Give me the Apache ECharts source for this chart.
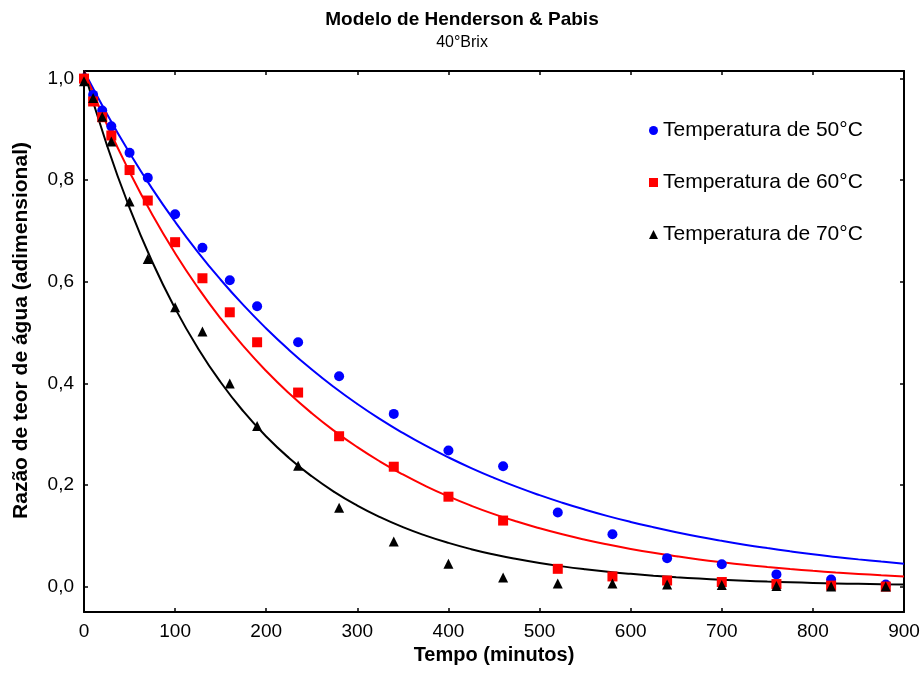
<!DOCTYPE html>
<html>
<head>
<meta charset="utf-8">
<script src="https://cdn.jsdelivr.net/npm/echarts@6/dist/echarts.min.js"></script>
<style>html,body{margin:0;padding:0;background:#fff;}#c{width:924px;height:686px;}</style>
</head>
<body>
<div id="c"></div>
<script>
// Observed drying data (minutes, moisture ratio)
var times = [0,10,20,30,50,70,100,130,160,190,235,280,340,400,460,520,580,640,700,760,820,880];
var mr50 = [1.0,0.968,0.937,0.906,0.854,0.805,0.733,0.667,0.603,0.552,0.481,0.414,0.340,0.268,0.237,0.146,0.103,0.056,0.044,0.024,0.014,0.004];
var mr60 = [1.0,0.955,0.924,0.888,0.820,0.760,0.678,0.607,0.540,0.481,0.382,0.296,0.236,0.177,0.130,0.035,0.020,0.012,0.009,0.005,0.002,0.0];
var mr70 = [0.995,0.962,0.925,0.876,0.758,0.645,0.550,0.502,0.400,0.316,0.238,0.155,0.089,0.045,0.018,0.006,0.006,0.004,0.003,0.001,0.0,0.0];

// Fitted model curves, every 25 minutes
var curveTimes = [0,25,50,75,100,125,150,175,200,225,250,275,300,325,350,375,400,425,450,475,500,525,550,575,600,625,650,675,700,725,750,775,800,825,850,875,900];
var fit50 = [1.015,0.9309,0.8538,0.7830,0.7182,0.6586,0.6041,0.5540,0.5081,0.4660,0.4274,0.3920,0.3595,0.3297,0.3024,0.2773,0.2544,0.2333,0.2140,0.1962,0.1800,0.1651,0.1514,0.1388,0.1273,0.1168,0.1071,0.0982,0.0901,0.0826,0.0758,0.0695,0.0637,0.0585,0.0536,0.0492,0.0451];
var fit60 = [1.015,0.9102,0.8162,0.7319,0.6563,0.5886,0.5278,0.4733,0.4244,0.3806,0.3413,0.3061,0.2745,0.2461,0.2207,0.1979,0.1775,0.1592,0.1427,0.1280,0.1148,0.1029,0.0923,0.0828,0.0742,0.0665,0.0597,0.0535,0.0480,0.0430,0.0386,0.0346,0.0310,0.0278,0.0250,0.0224,0.0201];
var fit70 = [1.015,0.8699,0.7456,0.6390,0.5477,0.4694,0.4023,0.3448,0.2955,0.2533,0.2171,0.1860,0.1595,0.1367,0.1171,0.1004,0.0860,0.0737,0.0632,0.0542,0.0464,0.0398,0.0341,0.0292,0.0251,0.0215,0.0184,0.0158,0.0135,0.0116,0.0099,0.0085,0.0073,0.0063,0.0054,0.0046,0.0039];

var yTicks = [0,0.2,0.4,0.6,0.8,1.0];
var xTicks = [0,100,200,300,400,500,600,700,800,900];

var names = ['Temperatura de 50°C','Temperatura de 60°C','Temperatura de 70°C'];
var colors = ['#0000ff','#ff0000','#000000'];

function pairs(xs, ys){ return xs.map(function(x,i){ return [x, ys[i]]; }); }

var FONT = '"Liberation Sans", Arial, sans-serif';
var chart = echarts.init(document.getElementById('c'), null, {renderer:'canvas'});

function tick(vals){ return {show:true,inside:true,length:4,lineStyle:{color:'#000',width:1.5},customValues:vals}; }
var line = {show:true,onZero:false,lineStyle:{color:'#000',width:2}};

chart.setOption({
  backgroundColor:'#fff',
  animation:false,
  title:{
    text:'Modelo de Henderson & Pabis',
    subtext:'40°Brix',
    left:'center', top:5, itemGap:6,
    textStyle:{fontFamily:FONT,fontSize:19,fontWeight:'bold',color:'#000'},
    subtextStyle:{fontFamily:FONT,fontSize:16,color:'#000'}
  },
  legend:{
    orient:'vertical', left:644, top:115,
    itemWidth:9, itemHeight:9, itemGap:31,
    textStyle:{fontFamily:FONT,fontSize:21,color:'#000'},
    data:[
      {name:names[0],icon:'circle'},
      {name:names[1],icon:'rect'},
      {name:names[2],icon:'triangle'}
    ]
  },
  grid:{left:84,right:20,top:71,bottom:74,containLabel:false},
  xAxis:[
    {
      type:'value', min:0, max:900, interval:100, position:'bottom',
      name:'Tempo (minutos)', nameLocation:'middle', nameGap:27,
      nameTextStyle:{fontFamily:FONT,fontSize:20,fontWeight:'bold',color:'#000'},
      axisLine:line, splitLine:{show:false},
      axisLabel:{fontFamily:FONT,fontSize:19,color:'#000',margin:10,customValues:xTicks},
      axisTick:tick(xTicks)
    },
    {
      type:'value', min:0, max:900, interval:100, position:'top',
      axisLine:line, splitLine:{show:false},
      axisLabel:{show:false},
      axisTick:tick(xTicks)
    }
  ],
  yAxis:[
    {
      type:'value', min:-0.05, max:1.015, position:'left',
      name:'Razão de teor de água (adimensional)', nameLocation:'middle', nameGap:52,
      nameTextStyle:{fontFamily:FONT,fontSize:21,fontWeight:'bold',color:'#000',padding:[0,0,0,22]},
      axisLine:line, splitLine:{show:false},
      axisLabel:{fontFamily:FONT,fontSize:19,color:'#000',margin:10,customValues:yTicks,
        formatter:function(v){ return v.toFixed(1).replace('.',','); }},
      axisTick:tick(yTicks)
    },
    {
      type:'value', min:-0.05, max:1.015, position:'right',
      axisLine:line, splitLine:{show:false},
      axisLabel:{show:false},
      axisTick:tick(yTicks)
    }
  ],
  series:[
    {type:'line',name:'fit50',data:pairs(curveTimes,fit50),smooth:true,showSymbol:false,symbol:'none',
      lineStyle:{color:colors[0],width:2},silent:true,z:2},
    {type:'line',name:'fit60',data:pairs(curveTimes,fit60),smooth:true,showSymbol:false,symbol:'none',
      lineStyle:{color:colors[1],width:2},silent:true,z:2},
    {type:'line',name:'fit70',data:pairs(curveTimes,fit70),smooth:true,showSymbol:false,symbol:'none',
      lineStyle:{color:colors[2],width:2},silent:true,z:2},
    {type:'scatter',name:names[0],data:pairs(times,mr50),symbol:'circle',symbolSize:10,itemStyle:{color:colors[0],opacity:1},z:3},
    {type:'scatter',name:names[1],data:pairs(times,mr60),symbol:'rect',symbolSize:10,itemStyle:{color:colors[1],opacity:1},z:4},
    {type:'scatter',name:names[2],data:pairs(times,mr70),symbol:'triangle',symbolSize:10,itemStyle:{color:colors[2],opacity:1},z:5}
  ]
});
</script>
</body>
</html>
